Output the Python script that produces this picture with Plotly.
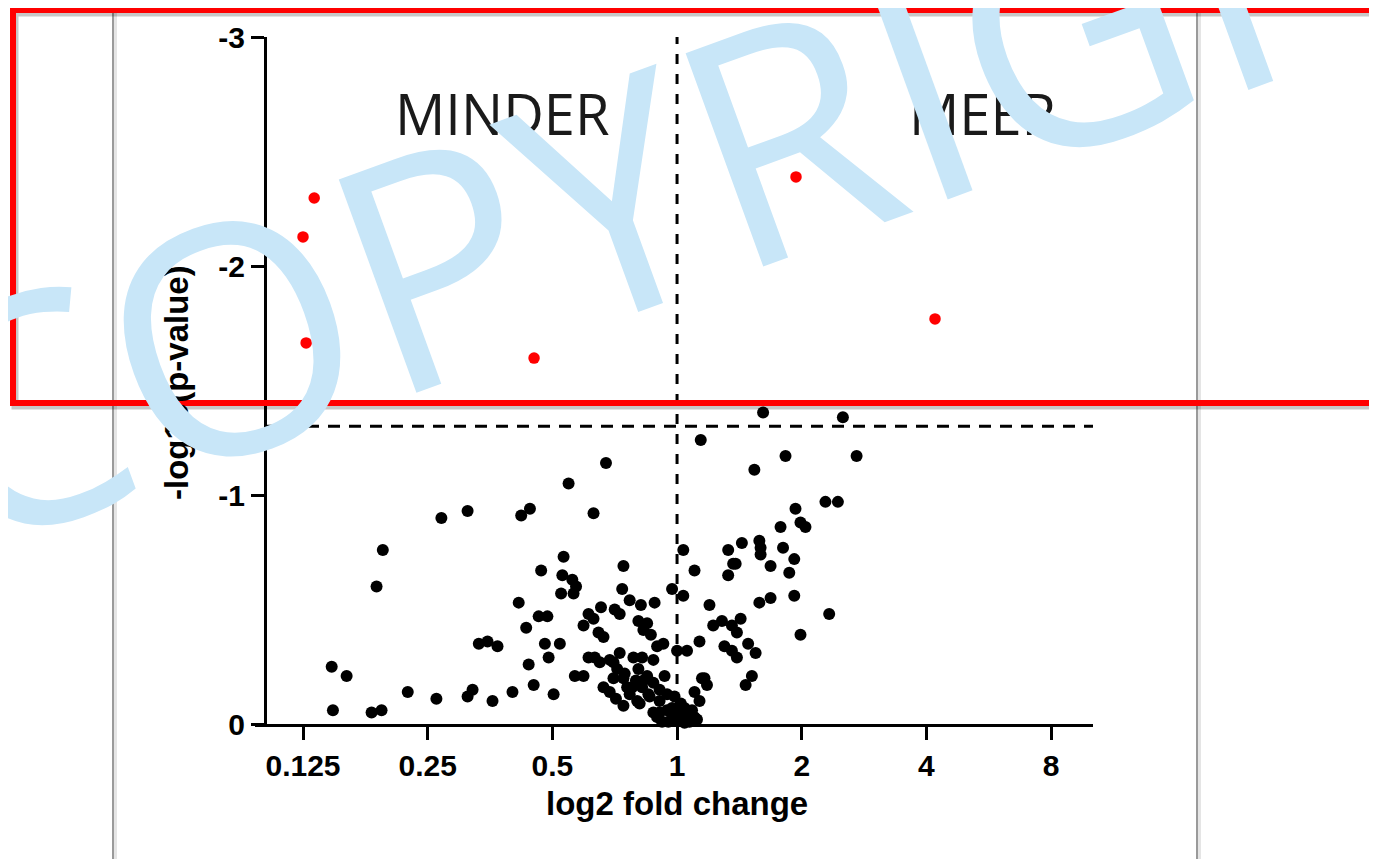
import plotly.graph_objects as go

# ---- data (log2 fold change, signed -log10 p-value as plotted) ----
ns_log2fc = [
    -2.77, -2.65, -2.76, -2.45, -2.37, -2.41, -2.36, -2.16, -1.93, -1.89, -1.68, -1.68, -1.64, -1.48, -1.59, -1.52, -1.44,
    -1.25, -1.18, -0.87, -0.57, -0.67, -0.91, -1.09, -0.92, -0.84, -0.81, -0.83, -0.93, -0.43, -0.44, -0.38, -0.29, -0.18,
    -1.27, -1.11, -1.04, -1.21, -0.61, -0.50, -0.46, -0.71, -0.67, -0.75, -0.31, -0.24, -0.27, -0.21, -0.04, 0.05, 0.05, 0.14,
    -1.06, -0.94, -1.03, -1.19, -0.63, -0.59, -0.71, -0.66, -0.62, -0.54, -0.46, -0.35, -0.28, -0.19, -0.16, -0.11, 0.00, 0.08, 0.18,
    -0.82, -0.75, -1.15, -1.32, -0.99, -0.59, -0.54, -0.48, -0.43, -0.40, -0.31, -0.27, -0.19, -0.10,
    -0.43, -0.30, -0.22, -0.14, -0.08, -0.19, 0.00, 0.06, -0.51, -0.24, -0.36, -0.28, -0.32, -0.03, 0.00, 0.10, 0.14, -0.14,
    -0.33, -0.51, -0.42, 0.22,
    0.69, 1.33, 0.19, 0.87, 1.44, 0.62, 1.19, 1.29, 0.95, 0.83, 0.99, 1.03, 0.52, 0.66, 0.67, 0.67, 0.41, 0.85, 0.94,
    0.45, 0.47, 0.41, 0.75, 0.90, 0.26, 0.66, 0.75, 0.94, 1.22, 0.99, 0.29, 0.36, 0.51, 0.44, 0.48, 0.38, 0.44, 0.48,
    0.57, 0.63, 0.60, 0.55, 0.20, 0.24, 0.14, 0.18, 0.06, 0.12, 0.08, 0.02,
    -0.16, -0.12, -0.07, 0.06, 0.10, 0.16, -0.04, 0.03, -0.02, -0.08, -0.14, -0.23, -0.38, -0.49,
]
ns_neglogp = [
    -0.25, -0.21, -0.06, -0.05, -0.06, -0.60, -0.76, -0.14, -0.11, -0.90, -0.93, -0.12, -0.15, -0.10, -0.35, -0.36, -0.34,
    -0.91, -0.94, -1.05, -1.14, -0.92, -0.73, -0.67, -0.65, -0.63, -0.60, -0.57, -0.57, -0.69, -0.59, -0.54, -0.52, -0.53,
    -0.53, -0.47, -0.47, -0.42, -0.51, -0.50, -0.48, -0.48, -0.46, -0.43, -0.45, -0.44, -0.41, -0.39, -0.59, -0.56, -0.76, -0.67,
    -0.35, -0.35, -0.29, -0.26, -0.40, -0.38, -0.29, -0.29, -0.27, -0.28, -0.31, -0.29, -0.29, -0.28, -0.34, -0.35, -0.32, -0.32, -0.36,
    -0.21, -0.21, -0.17, -0.14, -0.13, -0.16, -0.14, -0.24, -0.20, -0.16, -0.24, -0.19, -0.18, -0.21,
    -0.08, -0.09, -0.12, -0.10, -0.06, -0.05, -0.05, -0.07, -0.27, -0.21, -0.16, -0.16, -0.10, -0.03, -0.02, -0.05, -0.03, -0.05,
    -0.19, -0.20, -0.22, -0.20,
    -1.36, -1.34, -1.24, -1.17, -1.17, -1.11, -0.97, -0.97, -0.94, -0.86, -0.88, -0.86, -0.79, -0.80, -0.77, -0.74, -0.76, -0.77, -0.72,
    -0.70, -0.70, -0.65, -0.69, -0.66, -0.52, -0.53, -0.55, -0.56, -0.48, -0.39, -0.43, -0.45, -0.46, -0.43, -0.40, -0.34, -0.32, -0.29,
    -0.35, -0.31, -0.21, -0.17, -0.20, -0.17, -0.14, -0.10, -0.05, -0.06, -0.03, -0.03,
    -0.03, -0.01, -0.01, -0.005, -0.01, -0.02, -0.07, -0.09, -0.12, -0.13, -0.15, -0.13, -0.13, -0.11,
]
sig_log2fc = [-2.91, -3.00, -2.975, -1.147, 0.954, 2.069]
sig_neglogp = [-2.297, -2.127, -1.664, -1.598, -2.389, -1.769]

x_tickvals = [-3, -2, -1, 0, 1, 2, 3]
x_ticktext = ["0.125", "0.25", "0.5", "1", "2", "4", "8"]
y_tickvals = [0, -1, -2, -3]
y_ticktext = ["0", "-1", "-2", "-3"]

fold_threshold = 0.0      # log2(1)
p_threshold = -1.30       # -log10(0.05)

# ---- geometry (page body has an 8px margin) ----
OFF = 8
W, H = 1377 - OFF, 859 - OFF
PLOT_L, PLOT_R, PLOT_T, PLOT_B = 255, 1093, 37, 724   # screen pixels
L_M, T_M = PLOT_L - OFF, PLOT_T - OFF
R_M = W - (PLOT_R - OFF)
B_M = H - (PLOT_B - OFF)
PW = PLOT_R - PLOT_L
PH = PLOT_B - PLOT_T


def px(xs):
    return (xs - PLOT_L) / PW


def py(ys):
    return (PLOT_B - ys) / PH


YAXIS_POS = px(265)
AX_FONT = "Liberation Sans, Arial, sans-serif"

fig = go.Figure()
fig.add_trace(go.Scatter(
    x=ns_log2fc, y=ns_neglogp, mode="markers",
    marker=dict(size=12, color="black", line=dict(width=0)),
    cliponaxis=False, showlegend=False,
))
fig.add_trace(go.Scatter(
    x=sig_log2fc, y=sig_neglogp, mode="markers",
    marker=dict(size=11.5, color="#ff0000", line=dict(width=0)),
    cliponaxis=False, showlegend=False,
))

fig.update_layout(
    width=W, height=H,
    margin=dict(l=L_M, r=R_M, t=T_M, b=B_M, pad=0),
    paper_bgcolor="white", plot_bgcolor="white",
    xaxis=dict(
        range=[-3.385, 3.336], showgrid=False, zeroline=False,
        showline=True, linewidth=3, linecolor="black",
        ticks="outside", ticklen=13, tickwidth=3, tickcolor="black",
        tickvals=x_tickvals, ticktext=x_ticktext,
        tickfont=dict(family=AX_FONT, size=30, color="black", weight="bold"),
    ),
    yaxis=dict(
        range=[0, -3], showgrid=False, zeroline=False,
        anchor="free", position=YAXIS_POS,
        showline=True, linewidth=3, linecolor="black",
        ticks="outside", ticklen=13, tickwidth=3, tickcolor="black",
        tickvals=y_tickvals, ticktext=y_ticktext,
        tickfont=dict(family=AX_FONT, size=30, color="black", weight="bold"),
    ),
)

# threshold lines
fig.add_shape(type="line", xref="x", yref="y domain", x0=fold_threshold, x1=fold_threshold, y0=0, y1=1,
              line=dict(color="black", width=3, dash="10px,10px"))
fig.add_shape(type="line", xref="x domain", yref="y", x0=YAXIS_POS, x1=1, y0=p_threshold, y1=p_threshold,
              line=dict(color="black", width=3, dash="12px,9px"))

# page edges
for xs in (113, 1197):
    fig.add_shape(type="line", xref="paper", yref="paper", x0=px(xs + 2), x1=px(xs + 2), y0=py(0), y1=py(880),
                  line=dict(color="rgba(0,0,0,0.10)", width=4), layer="above")
    fig.add_shape(type="line", xref="paper", yref="paper", x0=px(xs), x1=px(xs), y0=py(0), y1=py(880),
                  line=dict(color="#9a9a9a", width=2), layer="above")

# red frame with shadow
fig.add_shape(type="rect", xref="paper", yref="paper", x0=px(15), x1=px(1395), y0=py(406), y1=py(13),
              line=dict(color="rgba(0,0,0,0.22)", width=7), layer="above")
fig.add_shape(type="rect", xref="paper", yref="paper", x0=px(13), x1=px(1392), y0=py(403), y1=py(10),
              line=dict(color="#ff0000", width=6), layer="above")

# texts
fig.add_annotation(text="log2 fold change", xref="paper", yref="paper", x=px(677), y=py(803),
                   showarrow=False, xanchor="center", yanchor="middle",
                   font=dict(family=AX_FONT, size=33, color="black", weight="bold"))
fig.add_annotation(text="-log10(p-value)", xref="paper", yref="paper", x=px(176), y=py(383),
                   showarrow=False, textangle=-90, xanchor="center", yanchor="middle",
                   font=dict(family=AX_FONT, size=33, color="black", weight="bold"))
fig.add_annotation(text="MINDER", xref="paper", yref="paper", x=px(502), y=py(113),
                   showarrow=False, xanchor="center", yanchor="middle",
                   font=dict(family="Open Sans, sans-serif", size=56, color="#1a1a1a"))
fig.add_annotation(text="MEER", xref="paper", yref="paper", x=px(982), y=py(113),
                   showarrow=False, xanchor="center", yanchor="middle",
                   font=dict(family="Open Sans, sans-serif", size=56, color="#1a1a1a"))
# watermark
fig.add_annotation(text="COPYRIGHT", xref="paper", yref="paper", x=px(743), y=py(143),
                   showarrow=False, textangle=-20, xanchor="center", yanchor="middle",
                   font=dict(family="Open Sans, sans-serif", size=318, color="#c8e6f8"))

fig.write_html("out.html")
